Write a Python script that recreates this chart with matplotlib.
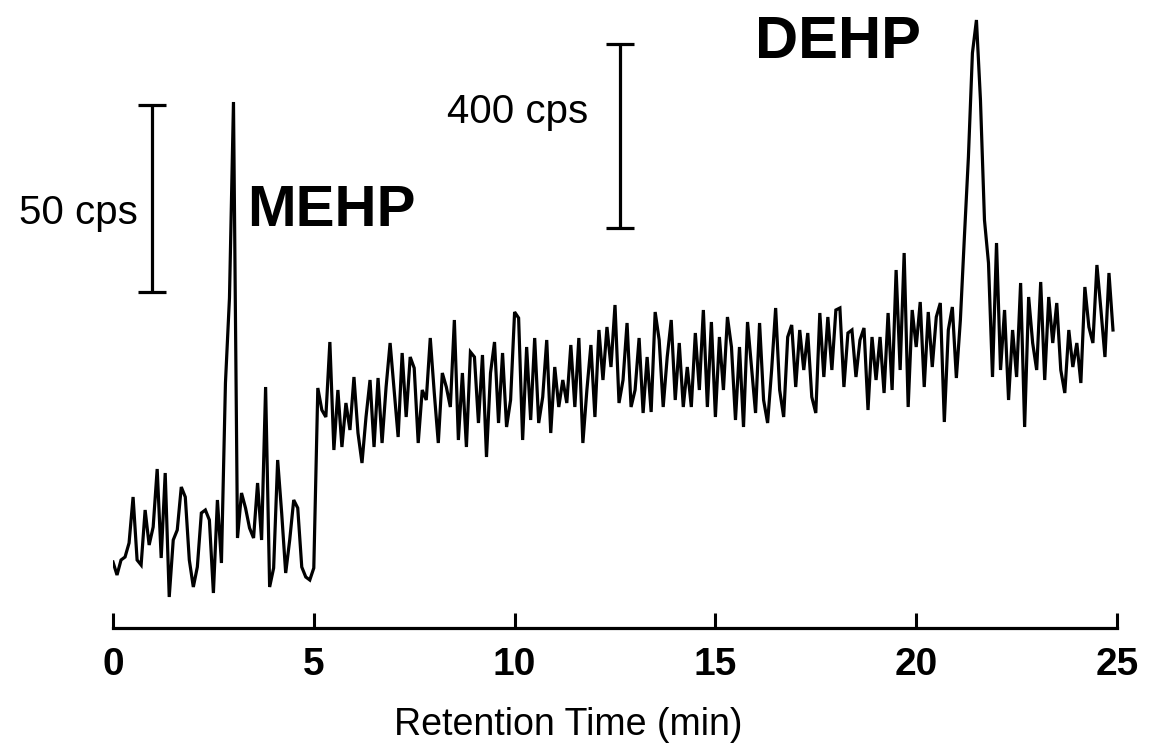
import numpy as np
import matplotlib
matplotlib.use("Agg")
from matplotlib import pyplot as plt

plt.rcParams['font.family'] = ['Liberation Sans', 'DejaVu Sans']

######################################################################
# Chromatogram: one sample every 0.1 min,
# detector response in arbitrary units (height above the time axis).
#

t_start = 0.0
t_step = 0.1

# 0 - 5 min (MEHP window, 50 cps scale)
resp_mehp = [66, 53, 68, 71, 85, 131, 68, 63, 118, 83,
             101, 159, 70, 155, 31, 88, 98, 141, 131, 68,
             41, 61, 115, 118, 108, 35, 128, 65, 245, 330,
             526, 90, 135, 120, 100, 90, 145, 88, 241, 41,
             60, 168, 115, 55, 88, 128, 120, 61, 51, 48]

# 5 - 25 min (DEHP window, 400 cps scale)
resp_dehp = [60, 240, 218, 211, 286, 178, 238, 181, 225, 198,
             251, 195, 165, 211, 248, 181, 250, 185, 241, 285,
             238, 191, 275, 211, 271, 260, 185, 238, 228, 290,
             235, 185, 255, 241, 221, 308, 188, 255, 181, 276,
             271, 205, 273, 171, 255, 286, 205, 275, 201, 228,
             316, 310, 188, 281, 208, 290, 205, 231, 288, 195,
             261, 221, 248, 225, 283, 221, 290, 185, 238, 283,
             211, 298, 248, 301, 261, 323, 225, 248, 305, 221,
             238, 290, 215, 271, 216, 316, 288, 221, 271, 308,
             228, 285, 221, 261, 221, 295, 238, 318, 221, 306,
             211, 291, 238, 311, 281, 208, 281, 201, 306, 261,
             215, 305, 228, 205, 258, 320, 238, 211, 291, 303,
             241, 298, 258, 295, 231, 215, 315, 251, 311, 258,
             318, 320, 241, 295, 298, 251, 288, 300, 218, 291,
             248, 291, 235, 315, 238, 358, 258, 375, 221, 318,
             281, 326, 241, 316, 261, 311, 325, 206, 298, 321,
             250, 308, 391, 471, 575, 608, 528, 408, 365, 251,
             385, 258, 318, 228, 298, 251, 345, 201, 331, 285,
             258, 346, 248, 331, 285, 325, 258, 235, 298, 261,
             285, 245, 341, 301, 285, 363, 318, 271, 355, 298]

response = np.array(resp_mehp + resp_dehp, dtype=float)
time = t_start + t_step * np.arange(len(response))

x_ticks = [0, 5, 10, 15, 20, 25]

######################################################################
# Figure
#

fig = plt.figure(figsize=(11.49, 7.54), dpi=100)
ax = fig.add_axes([113 / 1149, 126 / 754, 1004 / 1149, 628 / 754])

ax.plot(time, response, color='black', lw=2.3, solid_joinstyle='miter')

ax.set_xlim(0, 25)
ax.set_ylim(0, 628)

for side in ['left', 'right', 'top']:
    ax.spines[side].set_visible(False)
ax.spines['bottom'].set_linewidth(2.3)
ax.set_yticks([])
ax.set_xticks(x_ticks)
ax.set_xticklabels([str(v) for v in x_ticks], fontsize=28, fontweight='bold')
ax.tick_params(axis='x', direction='in', length=11, width=2.2, pad=14)

fig.text(568 / 1149, 1 - 725 / 754, 'Retention Time (min)', fontsize=27,
         ha='center', va='center')

# scale bars
ax.errorbar([0.97], [429.5], yerr=[[93.5], [93.5]], fmt='none', ecolor='black',
            elinewidth=2.3, capsize=10, capthick=2.3)
ax.errorbar([12.62], [492], yerr=[[92], [92]], fmt='none', ecolor='black',
            elinewidth=2.3, capsize=10, capthick=2.3)
ax.text(0.62, 415, '50 cps', fontsize=29, ha='right', va='center')
ax.text(11.83, 516, '400 cps', fontsize=29, ha='right', va='center')

# peak labels
ax.text(3.34, 417, 'MEHP', fontsize=42, fontweight='bold', ha='left', va='center')
ax.text(15.99, 586, 'DEHP', fontsize=43, fontweight='bold', ha='left', va='center')

fig.savefig('out.png', dpi=100)
